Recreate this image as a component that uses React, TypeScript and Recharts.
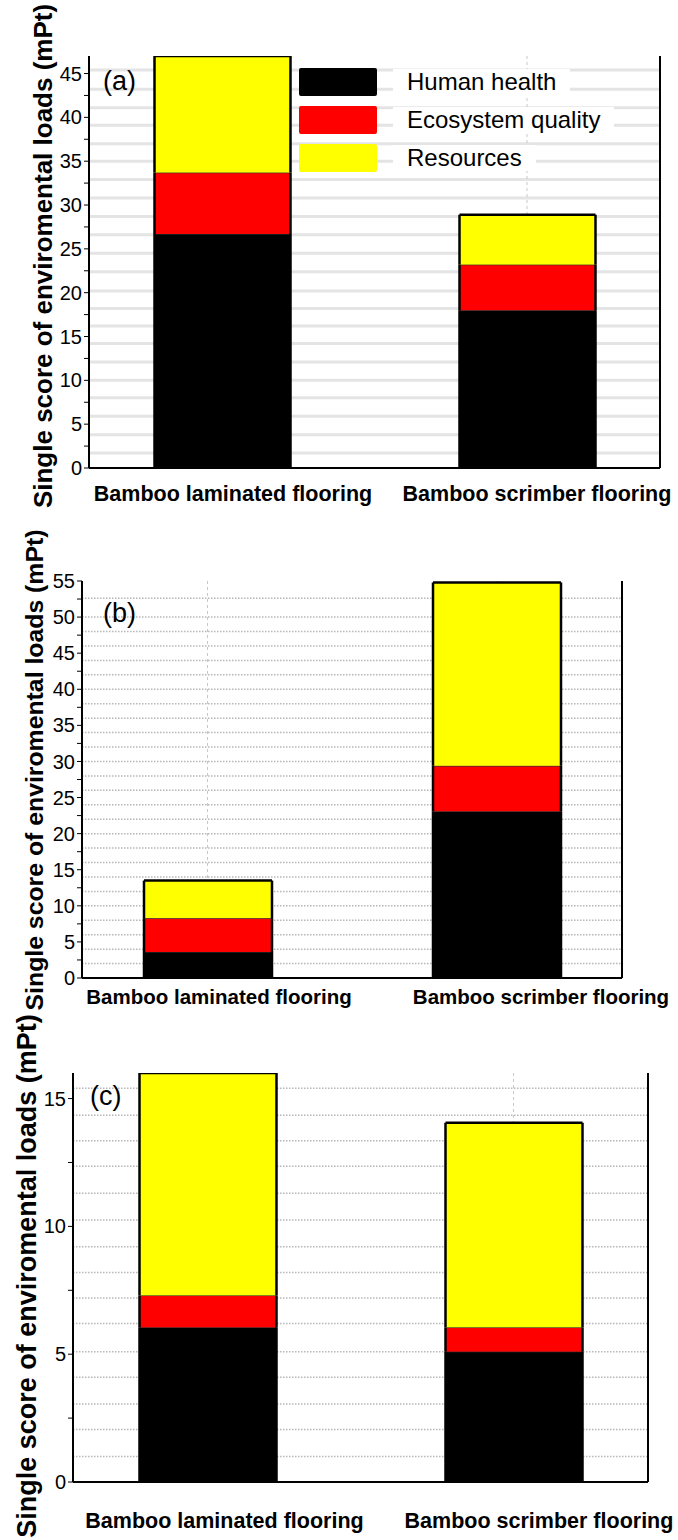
import React from 'react'
import { BarChart, Bar, XAxis, YAxis, CartesianGrid, Legend } from 'recharts'

const FONT = '"Liberation Sans", Arial, Helvetica, sans-serif'

const categories = ['Bamboo laminated flooring', 'Bamboo scrimber flooring']
const seriesNames = ['Human health', 'Ecosystem quality', 'Resources']

// panel (a)
const humanA = [26.7, 18.0]
const ecoA = [7.0, 5.2]
const resA = [13.8, 5.7]
const ticksA = [0, 2.5, 5, 7.5, 10, 12.5, 15, 17.5, 20, 22.5, 25, 27.5, 30, 32.5, 35, 37.5, 40, 42.5, 45]
const gridA = [1.7, 3.8, 5.9, 8, 10, 12.1, 14.2, 16.2, 18.2, 20.2, 22.4, 24.5, 26.6, 28.7, 30.8, 32.9, 35, 37, 39.1, 41.1, 43.2, 45.4]

// panel (b)
const humanB = [3.6, 23.1]
const ecoB = [4.7, 6.3]
const resB = [5.2, 25.4]
const ticksB = [0, 2.5, 5, 7.5, 10, 12.5, 15, 17.5, 20, 22.5, 25, 27.5, 30, 32.5, 35, 37.5, 40, 42.5, 45, 47.5, 50, 52.5, 55]
const gridB = [2, 4, 6, 8, 10, 12, 14, 16, 18, 20, 22, 24, 26, 28, 30, 32, 34, 36, 38, 40, 42, 44, 46, 48, 50, 52.6]

// panel (c)
const humanC = [6.05, 5.1]
const ecoC = [1.25, 0.95]
const resC = [9.2, 8.0]
const ticksC = [0, 2.5, 5, 7.5, 10, 12.5, 15]
const gridC = [1, 2.05, 3.05, 4.1, 5.1, 6.2, 7.2, 8.2, 9.2, 10.25, 11.3, 12.35, 13.35, 14.35, 15.4]

const yTitle = 'Single score of enviromental loads (mPt)'

const build = (h: number[], e: number[], r: number[]) =>
  categories.map((name, i) => ({ name, human: h[i], eco: e[i], res: r[i] }))

const segment = (isTop: boolean) => (props: any) => {
  const { x, y, width, height, fill } = props
  if (!height || height <= 0) return <g />
  return (
    <g>
      <rect x={x} y={y} width={width} height={height} fill={fill} />
      <line x1={x} y1={y} x2={x + width} y2={y} stroke={isTop ? '#000' : '#333'} strokeWidth={isTop ? 2.5 : 1.2} />
      <line x1={x} y1={y} x2={x} y2={y + height} stroke="#000" strokeWidth={2.5} />
      <line x1={x + width} y1={y} x2={x + width} y2={y + height} stroke="#000" strokeWidth={2.5} />
    </g>
  )
}

const LegendBox = ({ payload }: any) => {
  const items = [...(payload || [])].sort(
    (a: any, b: any) => seriesNames.indexOf(a.value) - seriesNames.indexOf(b.value)
  )
  return (
    <div style={{ fontFamily: FONT }}>
      {items.map((e: any) => (
        <div key={e.value} style={{ display: 'flex', alignItems: 'center', height: 28, marginBottom: 10 }}>
          <div style={{ width: 78, height: 28, background: e.color, borderRadius: 2 }} />
          <span style={{ marginLeft: 16, padding: '0 14px', background: '#fff', fontSize: 24, lineHeight: '26px', color: '#000' }}>
            {e.value}
          </span>
        </div>
      ))}
    </div>
  )
}

interface PanelProps {
  data: any[]
  max: number
  ticks: number[]
  grid: number[]
  top: number
  height: number
  mTop: number
  mRight: number
  yWidth: number
  xHeight: number
  pad: number
  barSize: number
  labelDy: number
  labelSize: number
  shifts: number[]
  blurGrid?: boolean
  legend?: boolean
}

function Panel(p: PanelProps) {
  const frame = { stroke: '#000', strokeWidth: 2 }
  return (
    <div style={{ position: 'absolute', left: 0, top: p.top }}>
      <BarChart
        width={678}
        height={p.height}
        data={p.data}
        margin={{ top: p.mTop, right: p.mRight - 1, left: 0, bottom: 12 }}
        barSize={p.barSize}
      >
        <CartesianGrid
          vertical={false}
          horizontalValues={p.grid}
          stroke={p.blurGrid ? '#e4e4e4' : '#b8b8b8'}
          strokeWidth={p.blurGrid ? 3 : 1.5}
          strokeDasharray={p.blurGrid ? undefined : '1.5 1.5'}
        />
        <CartesianGrid horizontal={false} stroke="#c8c8c8" strokeDasharray="3 3" />
        <Bar dataKey="human" name={seriesNames[0]} stackId="s" fill="#000000" shape={segment(false)} isAnimationActive={false} />
        <Bar dataKey="eco" name={seriesNames[1]} stackId="s" fill="#ff0000" shape={segment(false)} isAnimationActive={false} />
        <Bar dataKey="res" name={seriesNames[2]} stackId="s" fill="#ffff00" shape={segment(true)} isAnimationActive={false} />
        <XAxis
          dataKey="name"
          height={p.xHeight}
          padding={{ left: -p.pad, right: -p.pad }}
          tickLine={false}
          tickSize={0}
          tickMargin={0}
          interval={0}
          axisLine={frame}
          tick={(t: any) => (
            <text
              x={t.x + (p.shifts[t.index] ?? 0)}
              y={t.y + p.labelDy}
              textAnchor="middle"
              fontFamily={FONT}
              fontWeight="bold"
              fontSize={p.labelSize}
              fill="#000"
            >
              {t.payload.value}
            </text>
          )}
        />
        <XAxis xAxisId="t" orientation="top" dataKey="name" height={0} tick={false} tickLine={false} axisLine={frame} />
        <YAxis
          domain={[0, p.max]}
          ticks={p.ticks}
          allowDataOverflow
          interval={0}
          width={p.yWidth}
          tickSize={5}
          tickMargin={2}
          tickLine={{ stroke: '#000' }}
          axisLine={frame}
          tick={{ fontSize: 20, fill: '#000', fontFamily: FONT }}
          tickFormatter={(v: number) => (v % 5 === 0 ? String(v) : '')}
        />
        <YAxis
          yAxisId="r"
          orientation="right"
          domain={[0, p.max]}
          ticks={[0, p.max]}
          width={1}
          tick={false}
          tickLine={false}
          axisLine={frame}
        />
        {p.legend && (
          <Legend
            layout="vertical"
            align="center"
            verticalAlign="middle"
            wrapperStyle={{ left: 299, top: 68, width: 340, height: 'auto' }}
            content={<LegendBox />}
          />
        )}
      </BarChart>
    </div>
  )
}

export default function App() {
  return (
    <div style={{ position: 'absolute', left: 0, top: 0, width: 678, height: 1540, background: '#fff' }}>
      <Panel
        data={build(humanA, ecoA, resA)}
        max={47}
        ticks={ticksA}
        grid={gridA}
        top={0}
        height={520}
        mTop={56}
        mRight={18}
        yWidth={89}
        xHeight={40}
        pad={19.5}
        barSize={136}
        labelDy={33}
        labelSize={21.5}
        shifts={[11, 10]}
        blurGrid
        legend
      />
      <Panel
        data={build(humanB, ecoB, resB)}
        max={55}
        ticks={ticksB}
        grid={gridB}
        top={510}
        height={520}
        mTop={71}
        mRight={56}
        yWidth={82}
        xHeight={40}
        pad={19}
        barSize={128}
        labelDy={26}
        labelSize={20.5}
        shifts={[11.5, 44.5]}
      />
      <Panel
        data={build(humanC, ecoC, resC)}
        max={16}
        ticks={ticksC}
        grid={gridC}
        top={1030}
        height={510}
        mTop={43}
        mRight={30}
        yWidth={73}
        xHeight={46}
        pad={18.5}
        barSize={137}
        labelDy={46}
        labelSize={21.5}
        shifts={[17, 25.5]}
      />
      <svg width={678} height={1540} style={{ position: 'absolute', left: 0, top: 0, pointerEvents: 'none' }}>
        <g fontFamily={FONT} fill="#000">
          <text x={52} y={256} transform="rotate(-90 52 256)" textAnchor="middle" fontWeight="bold" fontSize={26}>{yTitle}</text>
          <text x={43} y={770} transform="rotate(-90 43 770)" textAnchor="middle" fontWeight="bold" fontSize={24.8}>{yTitle}</text>
          <text x={36} y={1276} transform="rotate(-90 36 1276)" textAnchor="middle" fontWeight="bold" fontSize={27}>{yTitle}</text>
          <text x={103} y={90} fontSize={27}>(a)</text>
          <text x={103} y={622} fontSize={27}>(b)</text>
          <text x={90} y={1105} fontSize={27}>(c)</text>
        </g>
      </svg>
    </div>
  )
}
